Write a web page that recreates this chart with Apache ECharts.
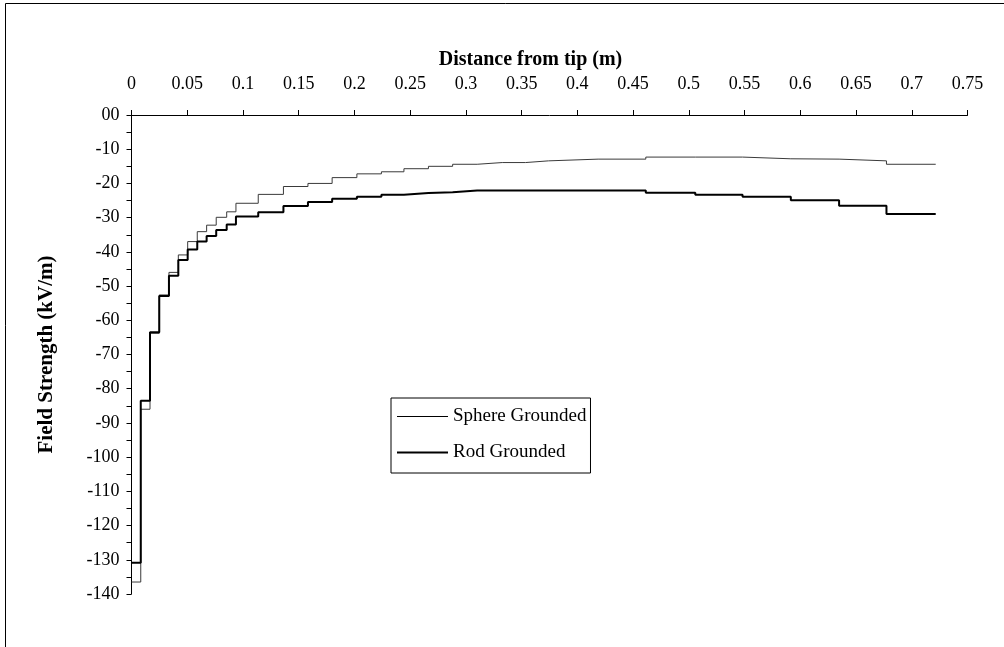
<!DOCTYPE html>
<html>
<head>
<meta charset="utf-8">
<script src="https://cdn.jsdelivr.net/npm/echarts@6/dist/echarts.min.js"></script>
<style>
  html, body { margin: 0; padding: 0; background: #fff; }
  #chart { width: 1004px; height: 647px; }
</style>
</head>
<body>
<div id="chart"></div>
<script>
// Step boundaries along the axis (m); each level holds from one boundary to the next
const distance = [
  0, 0.0083, 0.0166, 0.0249, 0.0336, 0.042, 0.0504, 0.059, 0.0674, 0.076,
  0.0854, 0.0937, 0.1137, 0.1363, 0.1583, 0.18, 0.2022, 0.2242, 0.2444, 0.2664,
  0.2881, 0.3101, 0.3326, 0.3535, 0.3742, 0.4186, 0.4614, 0.5058, 0.5482, 0.5915,
  0.6348, 0.6773, 0.7215
];

// Field strength levels (kV/m), one per interval
const sphereField = [
  -136.5, -86.0, -63.8, -52.6, -46.0, -40.9, -37.0, -34.1, -32.2, -29.9,
  -28.3, -25.8, -23.2, -20.9, -20.0, -18.3, -17.2, -16.6, -15.7, -15.0,
  -14.4, -13.9, -13.9, -13.4, -12.9, -12.9, -12.3, -12.3, -12.8, -12.9,
  -13.4, -14.4
];
const rodField = [
  -130.9, -83.5, -63.5, -52.9, -47.0, -42.4, -39.3, -37.0, -35.4, -33.6,
  -32.0, -29.7, -28.4, -26.6, -25.4, -24.5, -23.9, -23.3, -22.8, -22.6,
  -22.1, -22.1, -22.1, -22.1, -22.1, -22.1, -22.7, -23.3, -23.9, -24.9,
  -26.5, -28.9
];

const xTicks = { min: 0, max: 0.75, step: 0.05 };
const yTicks = { min: -140, max: 0, step: 10 };

// Turn interval levels into step-line points, closing the last interval
function stepPoints(levels) {
  const pts = levels.map((v, i) => [distance[i], v]);
  pts.push([distance[distance.length - 1], levels[levels.length - 1]]);
  return pts;
}

const serif = 'Liberation Serif, Times New Roman, serif';
const chart = echarts.init(document.getElementById('chart'), null, { renderer: 'canvas' });

chart.setOption({
  animation: false,
  backgroundColor: '#fff',
  graphic: [{
    type: 'rect',
    shape: { x: 5.5, y: 3.5, width: 1200, height: 900 },
    style: { fill: 'none', stroke: '#000', lineWidth: 1 },
    silent: true,
    z: -10
  }],
  grid: { left: 131.5, top: 115, width: 836, height: 479, containLabel: false },
  legend: {
    orient: 'vertical',
    left: 391,
    top: 398,
    padding: [9, 4, 11, 6],
    itemGap: 17,
    itemWidth: 51,
    itemHeight: 10,
    borderColor: '#000',
    borderWidth: 1,
    backgroundColor: '#fff',
    textStyle: { fontFamily: serif, fontSize: 19, color: '#000', lineHeight: 18 },
    data: [
      { name: 'Sphere Grounded', icon: 'path://M0,0h51v1h-51z', itemStyle: { color: '#000' } },
      { name: 'Rod Grounded', icon: 'path://M0,0h51v2h-51z', itemStyle: { color: '#000' } }
    ]
  },
  xAxis: {
    type: 'value',
    position: 'top',
    min: xTicks.min,
    max: xTicks.max,
    interval: xTicks.step,
    name: 'Distance from tip (m)',
    nameLocation: 'middle',
    nameGap: 43,
    nameTextStyle: {
      fontFamily: serif, fontSize: 20, fontWeight: 'bold', color: '#000',
      padding: [0, 38, 0, 0]
    },
    axisLine: { show: true, onZero: false, lineStyle: { color: '#000', width: 1 } },
    axisTick: { show: true, inside: false, length: 5, lineStyle: { color: '#000' } },
    axisLabel: { fontFamily: serif, fontSize: 18, color: '#000', margin: 22 },
    splitLine: { show: false }
  },
  yAxis: {
    type: 'value',
    min: yTicks.min,
    max: yTicks.max,
    interval: yTicks.step,
    name: 'Field Strength (kV/m)',
    nameLocation: 'middle',
    nameGap: 74,
    nameRotate: 90,
    nameTextStyle: { fontFamily: serif, fontSize: 21, fontWeight: 'bold', color: '#000' },
    axisLine: { show: true, onZero: false, lineStyle: { color: '#000', width: 1 } },
    axisTick: { show: true, length: 5, lineStyle: { color: '#000' } },
    minorTick: { show: true, splitNumber: 2, length: 5, lineStyle: { color: '#000' } },
    axisLabel: {
      fontFamily: serif, fontSize: 18, color: '#000', margin: 12,
      formatter: v => (v === 0 ? '00' : String(v))
    },
    splitLine: { show: false }
  },
  series: [
    {
      name: 'Sphere Grounded',
      type: 'line',
      step: 'end',
      showSymbol: false,
      data: stepPoints(sphereField),
      lineStyle: { color: '#3a3a3a', width: 1 },
      itemStyle: { color: '#000' },
      z: 2
    },
    {
      name: 'Rod Grounded',
      type: 'line',
      step: 'end',
      showSymbol: false,
      data: stepPoints(rodField),
      lineStyle: { color: '#000', width: 2 },
      itemStyle: { color: '#000' },
      z: 3
    }
  ]
});
</script>
</body>
</html>
